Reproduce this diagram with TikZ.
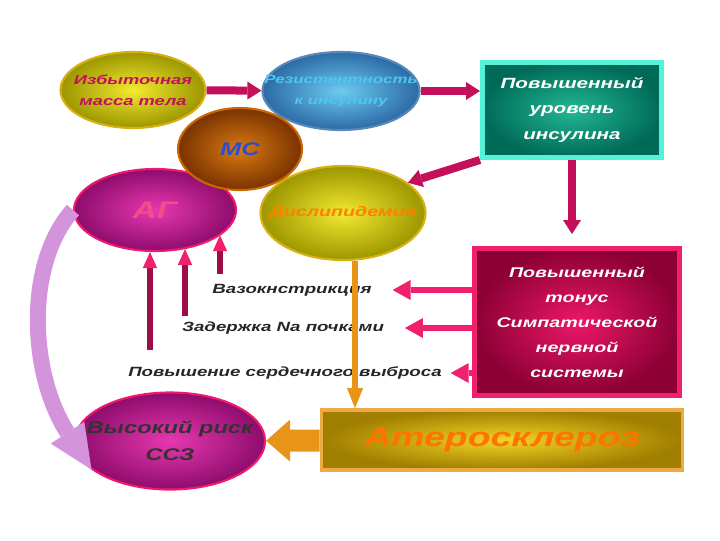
\documentclass[tikz,border=0pt]{standalone}
\usepackage{fontspec}
\newfontfamily\dfont[FakeStretch=1.4]{Liberation Sans}
\usetikzlibrary{shapes.geometric,arrows.meta,positioning}
\definecolor{olivein}{HTML}{F2EA30}
\definecolor{oliveout}{HTML}{9C9600}
\definecolor{olivering}{HTML}{D8B010}
\definecolor{bluein}{HTML}{6CCBF0}
\definecolor{blueout}{HTML}{2C6AA6}
\definecolor{brownin}{HTML}{D87A12}
\definecolor{brownout}{HTML}{7A3200}
\definecolor{royal}{HTML}{2A4FD0}
\definecolor{magin}{HTML}{E838B0}
\definecolor{magout}{HTML}{8E0C6C}
\definecolor{magring}{HTML}{F0186E}
\definecolor{tealin}{HTML}{22B894}
\definecolor{tealout}{HTML}{006A58}
\definecolor{tealring}{HTML}{54F2D8}
\definecolor{redin}{HTML}{EC1868}
\definecolor{redout}{HTML}{8C0034}
\definecolor{goldin}{HTML}{F4D424}
\definecolor{goldout}{HTML}{A07E00}
\definecolor{crimson}{HTML}{C4105A}
\definecolor{rosy}{HTML}{F0206E}
\definecolor{amber}{HTML}{E89418}
\definecolor{lilac}{HTML}{D494DC}

\begin{document}
\begin{tikzpicture}
    [x=0.025cm, y=-0.025cm,
    font=\dfont\bfseries\itshape,
    oval/.style={
      ellipse,
      shade,
      align=center,
      inner xsep=-30pt,
      inner ysep=-15pt,
      line width=1.5pt},
    box/.style={
      rectangle,
      shade,
      align=center,
      inner sep=0pt,
      line width=3.5pt},
    cause/.style={
      font=\dfont\bfseries\itshape\fontsize{9.5}{14}\selectfont,
      text=black!85},
    link/.style={
      draw=crimson,
      line width=0.2cm,
      -{Triangle[width=0.45cm,length=0.35cm,line width=0pt]}},
    rise/.style={
      draw=crimson!80!black,
      line width=0.13cm,
      -{Triangle[width=0.36cm,length=0.4cm,line width=0pt,fill=rosy]}},
    push/.style={
      draw=rosy,
      line width=0.15cm,
      -{Triangle[width=0.5cm,length=0.45cm,line width=0pt]}},
    drop/.style={
      draw=amber,
      line width=0.15cm,
      -{Triangle[width=0.4cm,length=0.5cm,line width=0pt]}}
    ]
    \useasboundingbox (0,0) rectangle (720,540);
    % ellipses on top row
    \node (obese) [oval, minimum width=3.625cm, minimum height=1.9cm,
      inner color=olivein, outer color=oliveout, draw=olivering, text=crimson,
      font=\dfont\bfseries\itshape\fontsize{9.3}{15}\selectfont] at (133,90) {Избыточная\\масса тела};
    \node (resist) [oval, minimum width=3.925cm, minimum height=1.95cm,
      inner color=bluein, outer color=blueout, draw=blueout!80, text=cyan!70!white,
      font=\dfont\bfseries\itshape\fontsize{8.6}{15}\selectfont] at (341,91) {Резистентность\\к инсулину};
    \node (ag) [oval, minimum width=4.05cm, minimum height=2.05cm,
      inner color=magin, outer color=magout, draw=magring, text=rosy!80!white,
      font=\dfont\bfseries\itshape\fontsize{17}{20}\selectfont] at (155,210) {АГ};
    \node (lipid) [oval, minimum width=4.125cm, minimum height=2.35cm,
      inner color=olivein, outer color=oliveout, draw=olivering, text=orange,
      font=\dfont\bfseries\itshape\fontsize{10}{15}\selectfont] at (343,213) {Дислипидемия};
    \node (ms) [oval, minimum width=3.1cm, minimum height=2.05cm,
      inner color=brownin, outer color=brownout, draw=orange!80!black, text=royal,
      font=\dfont\bfseries\itshape\fontsize{13}{16}\selectfont] at (240,149) {МС};
    \node (risk) [oval, minimum width=4.75cm, minimum height=2.425cm,
      inner color=magin, outer color=magout, draw=magring, text=black!80,
      font=\dfont\bfseries\itshape\fontsize{12}{19}\selectfont] at (170,441) {Высокий риск\\ССЗ};
    % boxes
    \node (insulin) [box, minimum width=4.475cm, minimum height=2.375cm,
      inner color=tealin, outer color=tealout, draw=tealring, text=white,
      font=\dfont\bfseries\itshape\fontsize{10.5}{18}\selectfont] at (572,110) {Повышенный\\уровень\\инсулина};
    \node (tonus) [box, minimum width=5.125cm, minimum height=3.675cm,
      inner color=redin, outer color=redout, draw=rosy, text=white,
      font=\dfont\bfseries\itshape\fontsize{10}{17.8}\selectfont] at (577,322) {Повышенный\\тонус\\Симпатической\\нервной\\системы};
    \node (athero) [box, minimum width=9.025cm, minimum height=1.5cm, line width=2.5pt,
      inner color=goldin, outer color=goldout, draw=amber!80, text=orange!90!red,
      font=\dfont\bfseries\itshape\fontsize{19}{24}\selectfont] at (502,440) {Атеросклероз};
    % effects of the sympathetic tone
    \node (vaso) [cause] at (292,290) {Вазокнстрикция};
    \node (kidney) [cause] at (283,328) {Задержка Na почками};
    \node (output) [cause] at (285,373) {Повышение сердечного выброса};
    \coordinate (up1) at (150,350);
    \coordinate (up2) at (185,316);
    \coordinate (up3) at (220,274);
    \coordinate (lipidfoot) at ([xshift=0.3cm]lipid.south);
    \draw[link] (obese) -- (resist);
    \draw[link] (resist.east) -- (resist.east -| insulin.west);
    \draw[link] (insulin.south west) -- (lipid.25);
    \draw[link] (insulin.south) -- ([yshift=0.3cm]insulin.south |- tonus.north);
    \draw[push] (tonus.west |- vaso) -- ([xshift=0.4cm]vaso.east);
    \draw[push] (tonus.west |- kidney) -- ([xshift=0.4cm]kidney.east);
    \draw[push] (tonus.west |- output) -- ([xshift=0.1cm]output.east);
    \draw[rise] (up1) -- (up1 |- ag.south);
    \draw[rise] (up2) -- (up2 |- ag.-52);
    \draw[rise] (up3) -- (up3 |- ag.-21);
    \draw[drop] (lipidfoot) -- (lipidfoot |- athero.north);
    \draw[amber, line width=0.55cm, -{Triangle[width=1.05cm,length=0.6cm,line width=0pt]}] (athero) -- (risk);
    \draw[lilac, line width=0.4cm, -{Triangle[width=1cm,length=1.1cm,line width=0pt]}]
      (ag.west) .. controls (24,265) and (30,375) .. (risk.200);
\end{tikzpicture}
\end{document}
